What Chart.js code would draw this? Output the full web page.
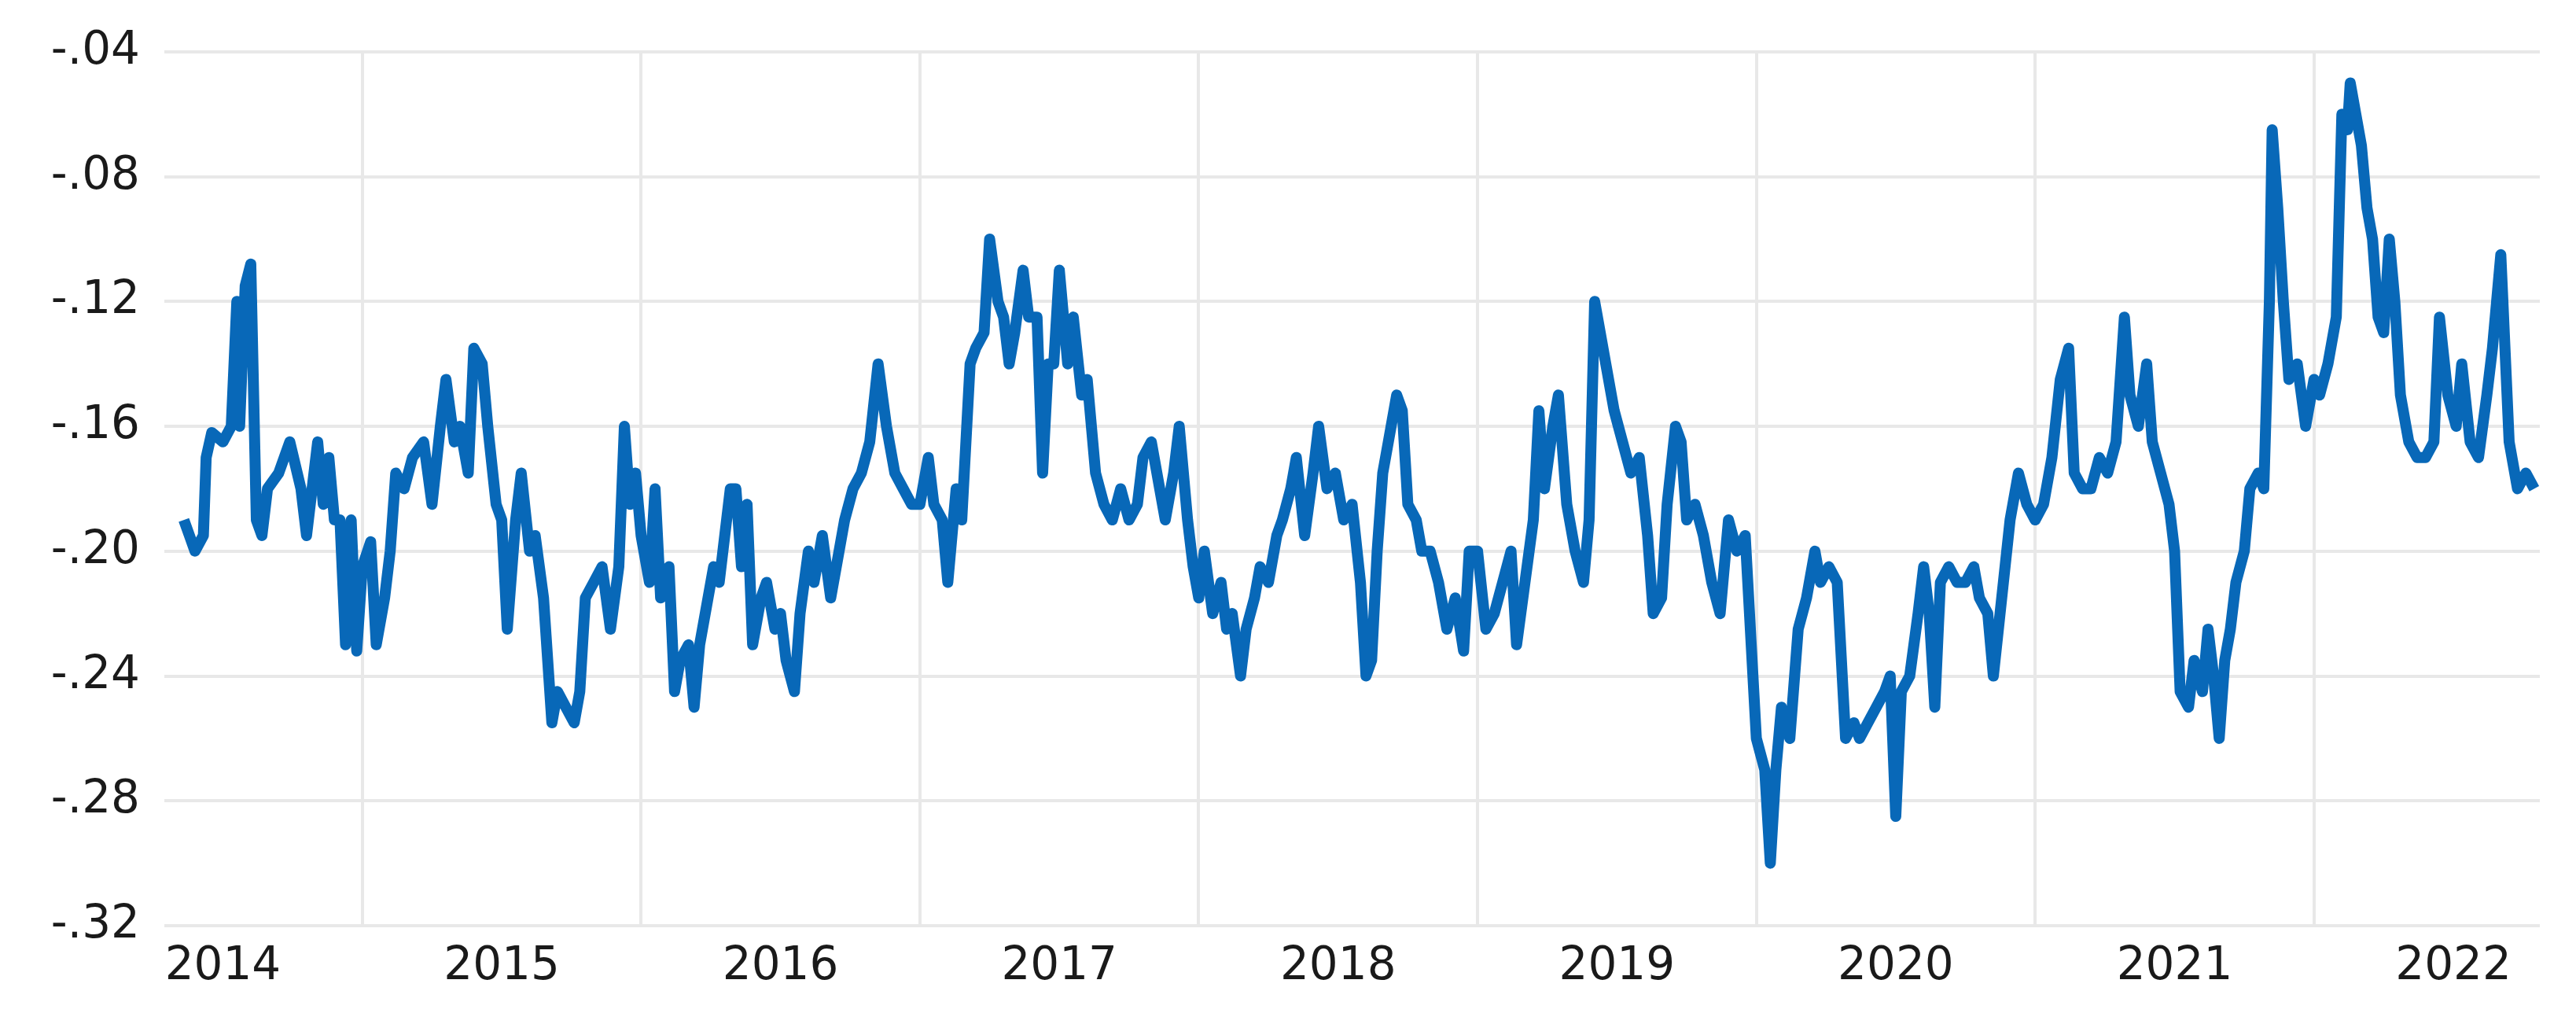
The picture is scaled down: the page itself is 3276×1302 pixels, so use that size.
<!DOCTYPE html>
<html><head><meta charset="utf-8">
<script src="https://cdn.jsdelivr.net/npm/chart.js@4"></script>
<style>html,body{margin:0;padding:0;background:#fff}#w{width:3276px;height:1302px}</style>
</head><body><div id="w"><canvas id="c"></canvas></div>
<script>
const years = [2014,2015,2016,2017,2018,2019,2020,2021,2022];
const yTicks = [-0.32,-0.28,-0.24,-0.20,-0.16,-0.12,-0.08,-0.04];
const dates = [
2014.36,2014.38,2014.40,2014.43,2014.44,2014.46,2014.50,2014.53,2014.55,2014.56,2014.58,2014.60,2014.62,2014.64,2014.66,2014.70,2014.74,2014.78,2014.80,2014.82,2014.84,2014.86,2014.88,2014.90,2014.92,2014.94,2014.96,2014.98,
2015.00,2015.03,2015.05,2015.08,2015.10,2015.12,2015.15,2015.18,2015.22,2015.25,2015.28,2015.30,2015.33,2015.35,2015.38,2015.40,2015.43,2015.45,2015.48,2015.50,2015.52,2015.55,2015.57,2015.60,2015.62,2015.65,2015.68,2015.70,2015.73,2015.76,2015.78,2015.80,2015.83,2015.86,2015.89,2015.92,2015.94,2015.96,2015.98,
2016.00,2016.03,2016.05,2016.07,2016.10,2016.12,2016.14,2016.17,2016.19,2016.21,2016.24,2016.26,2016.28,2016.30,2016.32,2016.34,2016.36,2016.38,2016.40,2016.43,2016.45,2016.48,2016.50,2016.52,2016.55,2016.57,2016.60,2016.62,2016.65,2016.68,2016.71,2016.73,2016.76,2016.79,2016.82,2016.85,2016.88,2016.91,2016.94,2016.97,
2017.00,2017.03,2017.05,2017.08,2017.10,2017.13,2017.15,2017.18,2017.20,2017.23,2017.25,2017.28,2017.30,2017.32,2017.34,2017.37,2017.39,2017.42,2017.44,2017.46,2017.48,2017.50,2017.53,2017.55,2017.58,2017.60,2017.63,2017.66,2017.69,2017.72,2017.75,2017.78,2017.80,2017.83,2017.86,2017.88,2017.91,2017.93,2017.96,2017.98,
2018.00,2018.02,2018.05,2018.08,2018.10,2018.12,2018.15,2018.17,2018.20,2018.22,2018.25,2018.28,2018.30,2018.33,2018.35,2018.38,2018.41,2018.43,2018.46,2018.49,2018.52,2018.55,2018.58,2018.60,2018.62,2018.64,2018.66,2018.68,2018.71,2018.73,2018.75,2018.78,2018.80,2018.83,2018.86,2018.89,2018.92,2018.95,2018.97,
2019.00,2019.03,2019.06,2019.09,2019.12,2019.14,2019.17,2019.20,2019.22,2019.24,2019.27,2019.29,2019.32,2019.35,2019.38,2019.40,2019.42,2019.44,2019.46,2019.49,2019.52,2019.55,2019.58,2019.61,2019.63,2019.66,2019.68,2019.71,2019.73,2019.75,2019.78,2019.81,2019.84,2019.87,2019.90,2019.93,2019.96,
2020.00,2020.03,2020.05,2020.07,2020.09,2020.12,2020.15,2020.18,2020.21,2020.23,2020.26,2020.29,2020.32,2020.35,2020.37,2020.40,2020.43,2020.46,2020.48,2020.50,2020.52,2020.55,2020.58,2020.60,2020.62,2020.64,2020.66,2020.69,2020.72,2020.75,2020.78,2020.80,2020.83,2020.85,2020.88,2020.91,2020.94,2020.97,
2021.00,2021.03,2021.06,2021.09,2021.12,2021.14,2021.17,2021.20,2021.23,2021.26,2021.29,2021.32,2021.34,2021.37,2021.40,2021.42,2021.45,2021.48,2021.50,2021.52,2021.55,2021.57,2021.60,2021.62,2021.64,2021.66,2021.68,2021.70,2021.72,2021.75,2021.77,2021.80,2021.82,2021.84,2021.85,2021.87,2021.89,2021.91,2021.94,2021.97,
2022.00,2022.02,2022.05,2022.08,2022.10,2022.12,2022.13,2022.15,2022.17,2022.19,2022.21,2022.23,2022.25,2022.27,2022.29,2022.31,2022.34,2022.37,2022.40,2022.43,2022.45,2022.48,2022.51,2022.53,2022.56,2022.59,2022.62,2022.64,2022.67,2022.70,2022.73,2022.76,2022.79
];
const values = [
-.19,-.195,-.20,-.195,-.17,-.162,-.165,-.16,-.12,-.16,-.115,-.108,-.19,-.195,-.18,-.175,-.165,-.18,-.195,-.18,-.165,-.185,-.17,-.19,-.19,-.23,-.19,-.232,
-.205,-.197,-.23,-.215,-.20,-.175,-.18,-.17,-.165,-.185,-.16,-.145,-.165,-.16,-.175,-.135,-.14,-.16,-.185,-.19,-.225,-.19,-.175,-.20,-.195,-.215,-.255,-.245,-.25,-.255,-.245,-.215,-.21,-.205,-.225,-.205,-.16,-.185,-.175,
-.195,-.21,-.18,-.215,-.205,-.245,-.235,-.23,-.25,-.23,-.215,-.205,-.21,-.195,-.18,-.18,-.205,-.185,-.23,-.215,-.21,-.225,-.22,-.235,-.245,-.22,-.20,-.21,-.195,-.215,-.20,-.19,-.18,-.175,-.165,-.14,-.16,-.175,-.18,-.185,
-.185,-.17,-.185,-.19,-.21,-.18,-.19,-.14,-.135,-.13,-.10,-.12,-.125,-.14,-.13,-.11,-.125,-.125,-.175,-.14,-.14,-.11,-.14,-.125,-.15,-.145,-.175,-.185,-.19,-.18,-.19,-.185,-.17,-.165,-.18,-.19,-.175,-.16,-.19,-.205,
-.215,-.20,-.22,-.21,-.225,-.22,-.24,-.225,-.215,-.205,-.21,-.195,-.19,-.18,-.17,-.195,-.175,-.16,-.18,-.175,-.19,-.185,-.21,-.24,-.235,-.20,-.175,-.165,-.15,-.155,-.185,-.19,-.20,-.20,-.21,-.225,-.215,-.232,-.20,
-.20,-.225,-.22,-.21,-.20,-.23,-.21,-.19,-.155,-.18,-.16,-.15,-.185,-.20,-.21,-.19,-.12,-.13,-.14,-.155,-.165,-.175,-.17,-.195,-.22,-.215,-.185,-.16,-.165,-.19,-.185,-.195,-.21,-.22,-.19,-.20,-.195,
-.26,-.27,-.30,-.27,-.25,-.26,-.225,-.215,-.20,-.21,-.205,-.21,-.26,-.255,-.26,-.255,-.25,-.245,-.24,-.285,-.245,-.24,-.22,-.205,-.22,-.25,-.21,-.205,-.21,-.21,-.205,-.215,-.22,-.24,-.215,-.19,-.175,-.185,
-.19,-.185,-.17,-.145,-.135,-.175,-.18,-.18,-.17,-.175,-.165,-.125,-.15,-.16,-.14,-.165,-.175,-.185,-.20,-.245,-.25,-.235,-.245,-.225,-.24,-.26,-.235,-.225,-.21,-.20,-.18,-.175,-.18,-.12,-.065,-.09,-.12,-.145,-.14,-.16,
-.145,-.15,-.14,-.125,-.06,-.065,-.05,-.06,-.07,-.09,-.10,-.125,-.13,-.10,-.12,-.15,-.165,-.17,-.17,-.165,-.125,-.15,-.16,-.14,-.165,-.17,-.15,-.135,-.105,-.165,-.18,-.175,-.18
];
const pts = dates.map((d,i)=>({x:d,y:values[i]}));
const font = {family:'"DejaVu Sans", Verdana, sans-serif', size:58};
new Chart(document.getElementById('c'),{
  type:'scatter',
  data:{datasets:[{data:pts,showLine:true,borderColor:'#0868b8',borderWidth:14,pointRadius:0,tension:0,borderJoinStyle:'round',xAxisID:'x'}]},
  options:{
    responsive:true,maintainAspectRatio:false,animation:false,
    layout:{padding:{top:58,right:46,left:0,bottom:0}},
    plugins:{legend:{display:false},tooltip:{enabled:false}},
    scales:{
      x:{type:'linear',min:2014.29,max:2022.81,
        afterBuildTicks:a=>{a.ticks=years.slice(1).map(v=>({value:v}));},
        afterFit:a=>{a.height=0;},
        grid:{color:'#e8e8e8',lineWidth:4,drawTicks:false},border:{display:false},
        ticks:{display:false}},
      x2:{type:'linear',position:'bottom',min:2014.29,max:2022.81,
        afterBuildTicks:a=>{a.ticks=years.map(v=>({value:v+0.5}));},
        afterFit:a=>{a.height=125;},
        grid:{display:false},border:{display:false},
        ticks:{font:font,color:'#1a1a1a',padding:10,maxRotation:0,autoSkip:false,callback:v=>String(Math.round(v-0.5))}},
      y:{min:-0.32,max:-0.04,
        afterBuildTicks:a=>{a.ticks=yTicks.map(v=>({value:v}));},
        afterFit:a=>{a.width=209;},
        grid:{color:'#e8e8e8',lineWidth:4,drawTicks:false},border:{display:false},
        ticks:{font:font,color:'#1a1a1a',padding:31,callback:v=>'-'+Math.abs(v).toFixed(2).replace(/^0/,'')}}
    }
  }
});
</script></body></html>
